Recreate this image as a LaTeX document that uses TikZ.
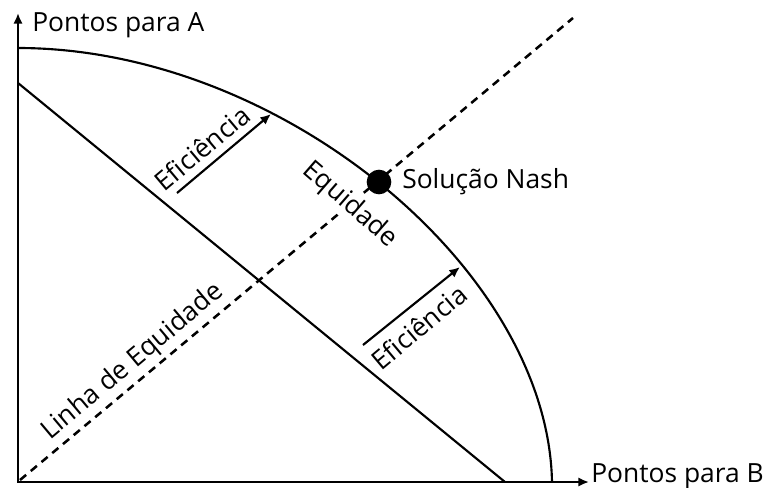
\documentclass[tikz,border=0pt]{standalone}
\usepackage{fontspec}
\setmainfont{Open Sans}
\usetikzlibrary{arrows.meta}
\begin{document}
\begin{tikzpicture}[x=0.75pt,y=-0.75pt,
  lbl/.style={font=\fontsize{19.8}{23}\selectfont, inner sep=0pt},
  axisline/.style={line width=1.7pt, {Latex[length=8pt,width=7pt]}-{Latex[length=8pt,width=7pt]}},
  mainline/.style={line width=1.6pt},
  dashline/.style={line width=1.9pt, dash pattern=on 6pt off 4.5pt},
  effarrow/.style={line width=1.6pt, -{Latex[length=8pt,width=7pt]}},
  dot/.style={circle, fill=black, minimum size=18.5pt, inner sep=0pt}]
\useasboundingbox (0,0) rectangle (764,487);
% equity line
\coordinate (D0) at (20,480);
\coordinate (D1) at (573,18);
\draw[dashline] (D0) -- (D1);
\node[lbl, rotate=-41, fill=white, inner sep=1.5pt] (eq) at (350,205) {Equidade};
\coordinate (O) at (18,482);
\coordinate (Ytop) at (18,13);
\coordinate (Xend) at (589,482);
\draw[axisline] (Ytop) -- (O) -- (Xend);
\node[lbl, anchor=west] (la) at (32,25) {Pontos para A};
\node[lbl, anchor=west] (lb) at (591,476) {Pontos para B};
% frontier curve
\coordinate (C0) at (18,48);
\coordinate (C1) at (280,48);
\coordinate (C2) at (548,269);
\coordinate (C3) at (552,482);
\draw[mainline] (C0) .. controls (C1) and (C2) .. (C3);
% straight line
\coordinate (L0) at (18,83);
\coordinate (L1) at (505,482);
\draw[mainline] (L0) -- (L1);
% Nash point
\node[dot] (nash) at (379,182) {};
\node[lbl, anchor=west] (nl) at (402,182) {Solução Nash};
% efficiency arrows
\coordinate (E1s) at (177,193);
\coordinate (E1e) at (271,114);
\draw[effarrow] (E1s) -- (E1e);
\coordinate (E2s) at (363,345);
\coordinate (E2e) at (460,267);
\draw[effarrow] (E2s) -- (E2e);
% rotated labels
\node[lbl, rotate=40] (ef1) at (202,148) {Eficiência};
\node[lbl, rotate=40] (ef2) at (419,327) {Eficiência};
\node[lbl, rotate=40] (le) at (133,362) {Linha de Equidade};
\end{tikzpicture}
\end{document}
